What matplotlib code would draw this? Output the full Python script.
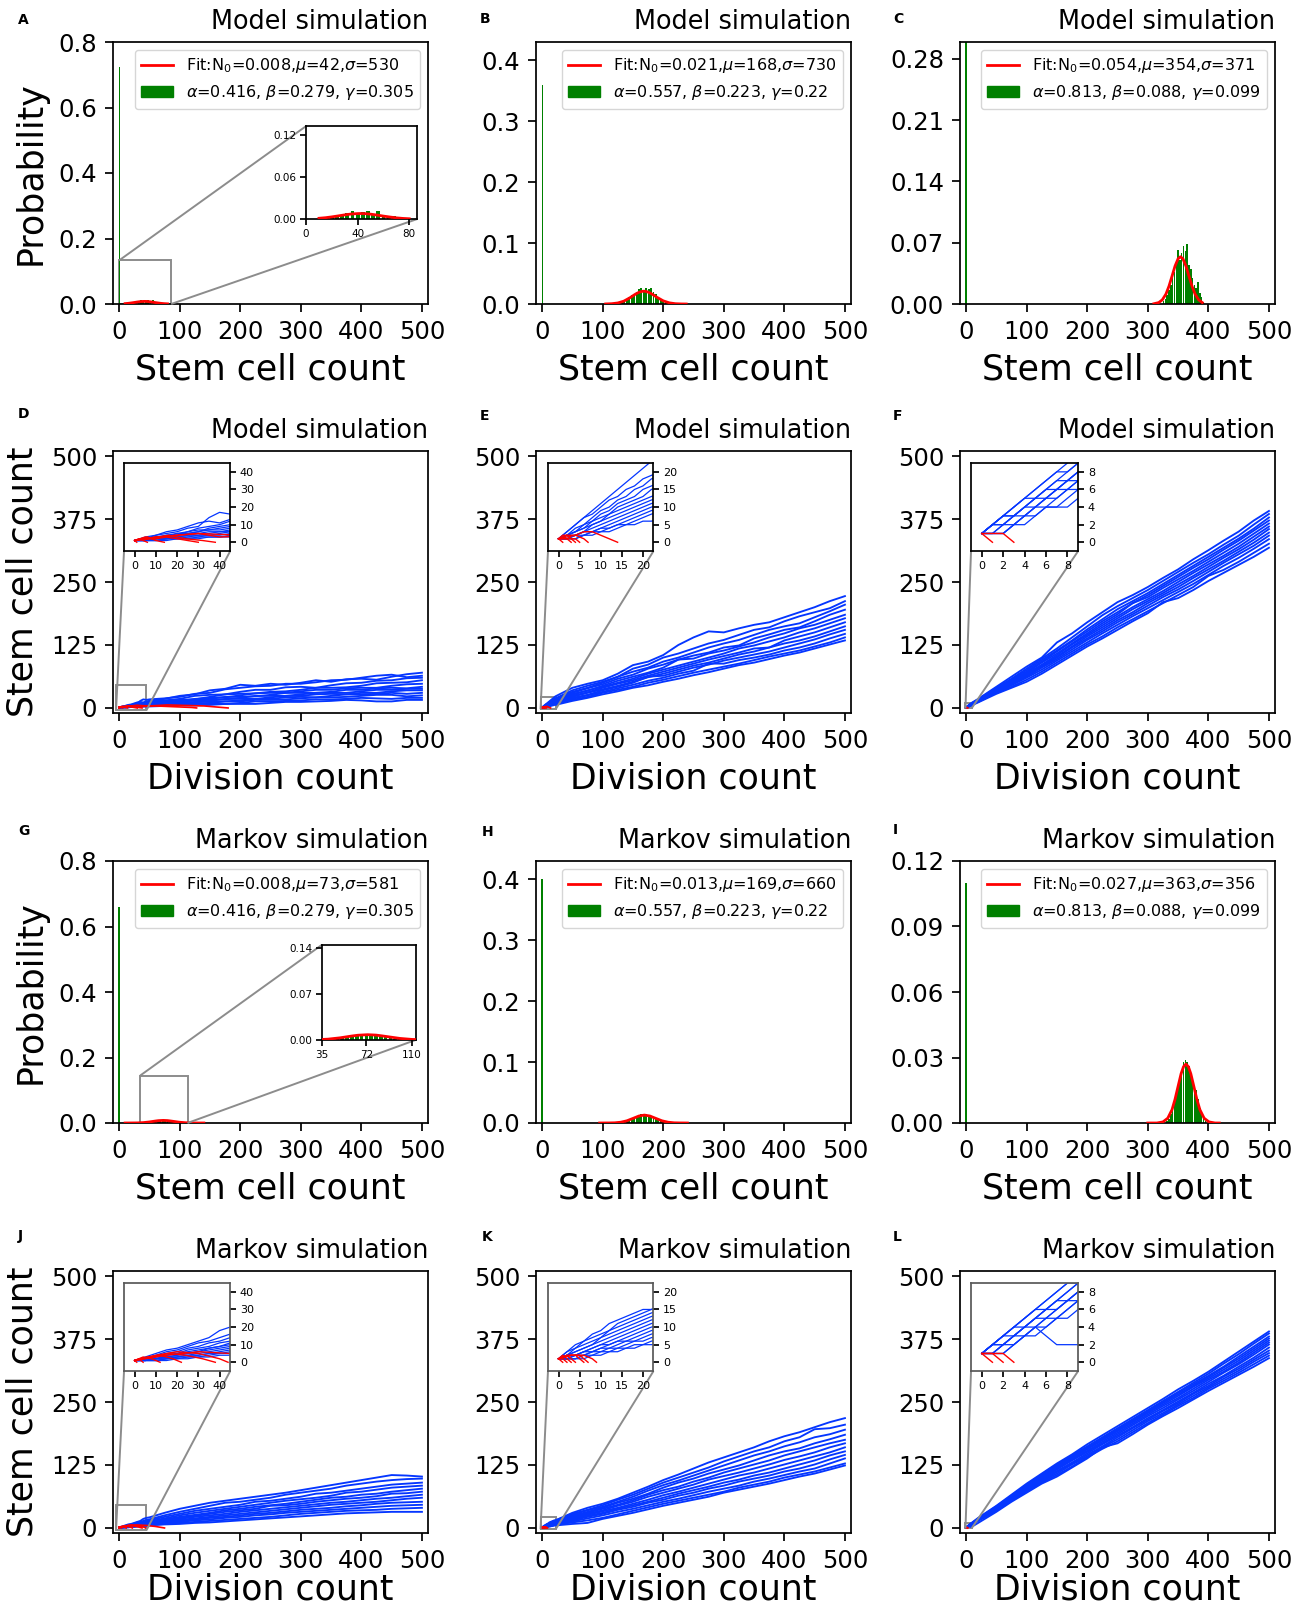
import matplotlib
matplotlib.use('Agg')
import matplotlib.pyplot as plt
from matplotlib.patches import Patch
from mpl_toolkits.axes_grid1.inset_locator import mark_inset

# ---------------- data: histogram panels (A, B, C, G, H, I) ----------------
fit_N0 = [0.008, 0.021, 0.054, 0.008, 0.013, 0.027]
fit_mu = [42, 168, 354, 73, 169, 363]
fit_sigma = [530, 730, 371, 581, 660, 356]
p_alpha = ['0.416', '0.557', '0.813', '0.416', '0.557', '0.813']
p_beta = ['0.279', '0.223', '0.088', '0.279', '0.223', '0.088']
p_gamma = ['0.305', '0.22', '0.099', '0.305', '0.22', '0.099']

spike_height = [0.725, 0.36, 0.31, 0.66, 0.40, 0.11]

A_bar_x = [16, 20, 24, 28, 32, 36, 40, 44, 48, 52, 56, 60, 64, 68, 72, 76, 80]
A_bar_y = [0.003, 0.004, 0.006, 0.005, 0.009, 0.011, 0.009, 0.010, 0.012, 0.008, 0.011,
           0.006, 0.005, 0.004, 0.003, 0.002, 0.001]
A_fit_x = [10, 15, 20, 25, 30, 35, 40, 42, 45, 50, 55, 60, 65, 70, 75, 80]
A_fit_y = [0.0012, 0.0020, 0.0032, 0.0046, 0.0061, 0.0073, 0.0079, 0.0080, 0.0079,
           0.0071, 0.0058, 0.0043, 0.0030, 0.0018, 0.0010, 0.0005]

B_bar_x = [128, 132, 136, 140, 144, 148, 152, 156, 160, 164, 168, 172, 176, 180, 184,
           188, 192, 196, 200, 204, 208, 212]
B_bar_y = [0.002, 0.004, 0.006, 0.008, 0.011, 0.014, 0.017, 0.020, 0.024, 0.026, 0.022,
           0.027, 0.024, 0.026, 0.020, 0.016, 0.012, 0.009, 0.006, 0.004, 0.002, 0.001]
B_fit_x = [105, 115, 125, 135, 145, 150, 155, 160, 165, 168, 170, 175, 180, 185, 190,
           200, 210, 220, 230, 238]
B_fit_y = [0.0001, 0.0005, 0.0017, 0.0047, 0.0102, 0.0135, 0.0167, 0.0192, 0.0207,
           0.0210, 0.0209, 0.0196, 0.0172, 0.0141, 0.0108, 0.0052, 0.0019, 0.0005,
           0.0001, 0.0000]

C_bar_x = [326, 329, 332, 335, 338, 341, 344, 347, 350, 353, 356, 359, 362, 365, 368,
           371, 374, 377, 380, 383, 386, 389, 392]
C_bar_y = [0.003, 0.006, 0.010, 0.016, 0.022, 0.030, 0.036, 0.045, 0.062, 0.050, 0.058,
           0.066, 0.060, 0.068, 0.045, 0.040, 0.030, 0.022, 0.018, 0.025, 0.012, 0.008,
           0.002]
C_fit_x = [310, 318, 324, 330, 335, 340, 345, 350, 354, 358, 363, 368, 373, 378, 384, 390]
C_fit_y = [0.0003, 0.0016, 0.0048, 0.0114, 0.0204, 0.0318, 0.0434, 0.0517, 0.0540,
           0.0517, 0.0434, 0.0318, 0.0204, 0.0114, 0.0048, 0.0016]

G_bar_x = [48, 52, 56, 60, 64, 68, 72, 76, 80, 84, 88, 92, 96, 100]
G_bar_y = [0.002, 0.003, 0.004, 0.005, 0.007, 0.008, 0.009, 0.008, 0.007, 0.006, 0.004,
           0.003, 0.002, 0.001]
G_fit_x = [10, 20, 30, 40, 50, 60, 65, 73, 80, 85, 90, 100, 110, 120, 130, 140]
G_fit_y = [0.0000, 0.0001, 0.0003, 0.0012, 0.0032, 0.0060, 0.0072, 0.0080, 0.0074,
           0.0062, 0.0049, 0.0023, 0.0008, 0.0002, 0.0000, 0.0000]

H_bar_x = [136, 140, 144, 148, 152, 156, 160, 164, 168, 172, 176, 180, 184, 188, 192,
           196, 200, 204]
H_bar_y = [0.002, 0.003, 0.005, 0.007, 0.009, 0.011, 0.013, 0.014, 0.015, 0.015, 0.013,
           0.012, 0.010, 0.008, 0.005, 0.004, 0.002, 0.001]
H_fit_x = [95, 110, 120, 130, 140, 150, 160, 169, 178, 188, 198, 208, 218, 228, 240]
H_fit_y = [0.0000, 0.0001, 0.0003, 0.0013, 0.0036, 0.0075, 0.0115, 0.0130, 0.0115,
           0.0075, 0.0036, 0.0013, 0.0003, 0.0001, 0.0000]

I_bar_x = [332, 335, 338, 341, 344, 347, 350, 353, 356, 359, 362, 365, 368, 371, 374,
           377, 380, 383, 386, 389, 392, 395]
I_bar_y = [0.001, 0.002, 0.004, 0.006, 0.009, 0.012, 0.016, 0.020, 0.024, 0.028, 0.029,
           0.028, 0.026, 0.023, 0.020, 0.017, 0.015, 0.011, 0.007, 0.004, 0.002, 0.001]
I_fit_x = [300, 315, 325, 333, 340, 345, 350, 355, 359, 363, 367, 371, 376, 381, 386,
           393, 401, 411, 418]
I_fit_y = [0.0000, 0.0000, 0.0005, 0.0022, 0.0061, 0.0109, 0.0168, 0.0226, 0.0258,
           0.0270, 0.0258, 0.0226, 0.0168, 0.0109, 0.0061, 0.0022, 0.0005, 0.0000, 0.0000]

# ---------------- data: trajectory panels (D, E, F, J, K, L) ----------------
# division counts at which the trajectories were read (early part = inset range)
late_x = [50, 75, 100, 125, 150, 175, 200, 225, 250, 275, 300, 325, 350, 375, 400, 425,
          450, 475, 500]
D_x = [0, 5, 10, 15, 20, 25, 30, 35, 40, 45] + late_x
D_blue = [
    [1, 3, 4, 6, 7, 9, 11, 12, 11, 13, 14, 18, 24, 27, 35, 38, 46, 44, 48, 46, 50, 55, 52, 57, 58, 56, 62, 67, 70],
    [1, 2, 4, 5, 6, 8, 9, 14, 17, 16, 17, 19, 22, 28, 30, 37, 40, 43, 44, 48, 48, 51, 55, 56, 60, 64, 66, 61, 64],
    [1, 2, 3, 3, 5, 6, 8, 9, 10, 12, 13, 15, 18, 24, 26, 27, 32, 36, 36, 41, 42, 40, 45, 49, 50, 54, 55, 59, 60],
    [1, 2, 2, 4, 5, 5, 6, 8, 9, 10, 11, 14, 16, 17, 22, 27, 28, 29, 32, 33, 36, 40, 40, 41, 44, 49, 50, 51, 55],
    [1, 1, 3, 4, 4, 6, 7, 7, 8, 9, 10, 12, 14, 18, 20, 21, 25, 29, 30, 30, 33, 36, 36, 39, 40, 40, 44, 47, 48],
    [1, 2, 3, 3, 4, 5, 6, 7, 7, 8, 9, 11, 13, 15, 18, 22, 22, 23, 26, 30, 30, 30, 32, 36, 36, 39, 40, 39, 42],
    [1, 1, 2, 3, 3, 4, 5, 6, 6, 7, 8, 10, 12, 15, 16, 17, 20, 24, 24, 24, 27, 30, 30, 30, 33, 36, 36, 38, 38],
    [1, 2, 2, 2, 3, 4, 4, 5, 6, 6, 7, 8, 10, 11, 14, 18, 18, 18, 21, 24, 24, 27, 28, 27, 30, 30, 33, 35, 35],
    [1, 1, 1, 2, 3, 3, 4, 4, 5, 6, 6, 8, 9, 12, 12, 13, 15, 18, 18, 21, 22, 21, 24, 27, 27, 28, 30, 28, 30],
    [1, 1, 2, 2, 2, 3, 3, 4, 4, 5, 5, 6, 8, 8, 10, 13, 13, 16, 16, 17, 19, 21, 21, 22, 24, 26, 26, 23, 25],
    [1, 1, 1, 2, 2, 2, 3, 3, 3, 4, 4, 5, 6, 8, 8, 8, 10, 13, 13, 14, 15, 17, 17, 18, 20, 19, 18, 20, 20],
    [1, 1, 1, 1, 2, 2, 2, 3, 3, 3, 3, 4, 5, 5, 6, 8, 8, 8, 10, 12, 12, 13, 14, 16, 15, 13, 13, 16, 16],
]
D_red_x = [[0, 1], [0, 2, 4, 6], [0, 3, 6, 10, 14], [0, 5, 10, 15, 20, 25, 30],
           [0, 10, 20, 30, 40, 60, 80, 100, 120, 128],
           [0, 10, 30, 50, 80, 110, 140, 160, 180], [0, 8, 16, 24, 32, 38]]
D_red_y = [[1, 0], [1, 2, 1, 0], [1, 2, 3, 1, 0], [1, 3, 2, 3, 2, 1, 0],
           [1, 3, 4, 5, 3, 4, 3, 2, 1, 0], [1, 3, 5, 4, 6, 5, 4, 2, 0], [1, 2, 4, 2, 1, 0]]

J_x = [0, 5, 10, 15, 20, 25, 30, 35, 40, 45] + late_x
J_blue = [
    [1, 3, 5, 7, 8, 10, 12, 14, 18, 20, 21, 30, 38, 44, 50, 54, 58, 62, 66, 70, 75, 80, 85, 90, 95, 100, 105, 104, 102],
    [1, 2, 4, 6, 7, 9, 11, 12, 14, 16, 17, 25, 32, 38, 44, 50, 52, 56, 60, 66, 70, 74, 78, 84, 88, 92, 95, 97, 98],
    [1, 2, 3, 5, 6, 8, 9, 11, 12, 14, 15, 22, 28, 34, 38, 42, 46, 52, 54, 58, 62, 68, 70, 74, 78, 82, 86, 88, 90],
    [1, 2, 3, 4, 5, 7, 8, 9, 11, 12, 13, 19, 25, 30, 34, 38, 42, 46, 50, 54, 57, 60, 64, 70, 72, 76, 80, 82, 84],
    [1, 2, 2, 4, 5, 6, 7, 8, 9, 11, 12, 17, 22, 26, 30, 35, 38, 42, 45, 48, 52, 56, 60, 62, 66, 68, 72, 75, 78],
    [1, 1, 2, 3, 4, 5, 6, 8, 9, 10, 11, 16, 20, 24, 28, 32, 35, 38, 44, 45, 48, 52, 55, 58, 60, 63, 68, 69, 72],
    [1, 1, 2, 3, 4, 5, 6, 7, 8, 9, 10, 14, 18, 22, 25, 28, 32, 35, 38, 41, 44, 47, 50, 52, 55, 58, 60, 63, 66],
    [1, 2, 2, 3, 3, 4, 5, 6, 7, 8, 9, 13, 16, 19, 22, 25, 28, 31, 34, 37, 40, 43, 46, 48, 50, 52, 55, 58, 60],
    [1, 1, 2, 2, 3, 4, 4, 5, 6, 7, 8, 11, 14, 17, 20, 22, 25, 28, 30, 33, 36, 38, 40, 43, 45, 48, 50, 51, 52],
    [1, 1, 1, 2, 3, 3, 4, 5, 5, 6, 7, 10, 12, 15, 17, 20, 22, 25, 27, 30, 32, 34, 36, 38, 40, 42, 44, 45, 46],
    [1, 1, 1, 2, 2, 3, 3, 4, 5, 5, 6, 8, 10, 12, 14, 16, 18, 20, 22, 25, 28, 30, 32, 34, 35, 36, 38, 39, 40],
    [1, 1, 1, 1, 2, 2, 3, 3, 4, 4, 5, 7, 8, 10, 11, 13, 15, 17, 19, 21, 23, 25, 27, 29, 30, 31, 32, 32, 32],
]
J_red_x = [[0, 1], [0, 2, 4], [0, 4, 8, 12], [0, 6, 12, 18, 22], [0, 8, 16, 24, 32, 38],
           [0, 10, 20, 30, 40, 44], [0, 15, 30, 45, 60, 75]]
J_red_y = [[1, 0], [1, 2, 0], [1, 3, 2, 0], [1, 3, 4, 2, 0], [1, 3, 5, 4, 2, 0],
           [1, 4, 6, 5, 2, 0], [1, 4, 6, 5, 3, 0]]

E_x = [0, 2, 4, 6, 8, 10, 12, 14, 16, 18, 20, 22] + late_x
E_blue = [
    [1, 3, 5, 7, 9, 11, 13, 15, 17, 19, 21, 23, 40, 48, 55, 68, 85, 92, 105, 125, 140, 152, 150, 158, 165, 170, 180, 190, 200, 212, 222],
    [1, 3, 5, 7, 8, 10, 12, 13, 15, 16, 18, 19, 35, 44, 52, 62, 78, 86, 100, 108, 118, 128, 135, 145, 155, 160, 172, 182, 190, 198, 212],
    [1, 2, 4, 5, 7, 9, 10, 12, 13, 15, 16, 18, 32, 40, 50, 62, 72, 80, 92, 100, 110, 120, 128, 135, 145, 155, 162, 168, 180, 192, 205],
    [1, 2, 3, 5, 6, 8, 9, 11, 12, 13, 15, 16, 30, 39, 47, 58, 66, 78, 86, 96, 104, 110, 120, 124, 138, 146, 155, 160, 172, 185, 195],
    [1, 2, 3, 4, 6, 7, 8, 10, 11, 12, 13, 15, 28, 34, 44, 54, 62, 70, 80, 96, 98, 108, 114, 122, 130, 140, 148, 158, 165, 175, 185],
    [1, 2, 3, 4, 5, 6, 8, 9, 10, 11, 12, 13, 26, 35, 42, 50, 58, 68, 76, 84, 92, 100, 108, 118, 124, 132, 140, 150, 158, 168, 178],
    [1, 1, 2, 3, 5, 6, 7, 8, 9, 10, 11, 12, 24, 31, 40, 48, 55, 64, 72, 80, 88, 96, 103, 110, 118, 120, 134, 142, 150, 160, 170],
    [1, 2, 2, 3, 4, 5, 6, 7, 8, 9, 10, 11, 22, 30, 37, 44, 52, 61, 68, 76, 84, 90, 98, 106, 112, 120, 128, 134, 142, 152, 162],
    [1, 1, 2, 3, 3, 4, 5, 6, 7, 8, 9, 10, 20, 26, 35, 42, 50, 62, 64, 72, 80, 86, 94, 100, 106, 112, 120, 128, 136, 146, 155],
    [1, 1, 2, 2, 3, 4, 4, 5, 6, 7, 8, 9, 18, 25, 32, 39, 46, 54, 60, 68, 74, 88, 88, 95, 100, 106, 114, 120, 128, 138, 147],
    [1, 1, 1, 2, 3, 3, 4, 5, 5, 6, 7, 8, 16, 22, 30, 36, 42, 50, 56, 63, 70, 76, 82, 88, 95, 102, 108, 114, 122, 130, 140],
    [1, 1, 1, 2, 2, 3, 3, 4, 5, 5, 6, 6, 14, 20, 27, 33, 40, 45, 52, 58, 65, 71, 78, 85, 90, 97, 104, 110, 118, 126, 134],
]
E_red_x = [[0, 1], [0, 2, 3], [0, 1, 2, 3, 4], [0, 3, 4, 5], [0, 2, 4, 6, 7],
           [0, 4, 6, 8, 10, 12, 14]]
E_red_y = [[1, 0], [1, 1, 0], [1, 2, 2, 1, 0], [1, 1, 1, 0], [1, 2, 2, 1, 0],
           [1, 2, 3, 3, 2, 1, 0]]

K_x = [0, 2, 4, 6, 8, 10, 12, 14, 16, 18, 20, 22] + late_x
K_blue = [
    [1, 3, 5, 6, 8, 9, 11, 12, 13, 14, 15, 15, 30, 40, 48, 58, 70, 82, 95, 106, 118, 130, 140, 150, 160, 172, 182, 190, 200, 210, 218],
    [1, 3, 4, 6, 7, 8, 9, 11, 12, 13, 14, 15, 28, 36, 45, 56, 66, 78, 90, 100, 110, 120, 132, 142, 152, 160, 172, 180, 196, 198, 205],
    [1, 2, 4, 5, 6, 7, 9, 10, 11, 12, 13, 14, 26, 35, 42, 52, 62, 74, 85, 94, 104, 114, 124, 134, 144, 152, 162, 170, 180, 186, 195],
    [1, 2, 3, 4, 5, 7, 8, 9, 10, 11, 12, 13, 24, 32, 40, 50, 58, 68, 80, 90, 98, 108, 116, 124, 134, 144, 152, 158, 168, 176, 185],
    [1, 2, 3, 4, 5, 6, 7, 8, 9, 10, 11, 12, 22, 30, 38, 46, 55, 66, 75, 82, 92, 100, 110, 118, 126, 134, 144, 152, 160, 168, 175],
    [1, 2, 2, 3, 4, 5, 6, 7, 8, 9, 10, 11, 20, 28, 35, 44, 52, 62, 70, 78, 86, 96, 103, 110, 118, 126, 135, 142, 150, 160, 168],
    [1, 1, 2, 3, 4, 5, 5, 6, 7, 8, 9, 10, 18, 26, 33, 40, 48, 56, 65, 72, 80, 88, 96, 104, 110, 118, 126, 134, 142, 150, 160],
    [1, 1, 2, 3, 3, 4, 5, 6, 6, 7, 8, 9, 16, 24, 30, 38, 45, 52, 60, 68, 75, 82, 90, 96, 104, 110, 118, 126, 134, 144, 152],
    [1, 1, 2, 2, 3, 4, 4, 5, 6, 6, 7, 8, 15, 22, 28, 36, 42, 50, 56, 64, 70, 78, 84, 92, 98, 104, 112, 118, 126, 136, 145],
    [1, 1, 1, 2, 3, 3, 4, 4, 5, 6, 6, 7, 13, 19, 25, 32, 38, 45, 52, 58, 65, 72, 78, 84, 92, 98, 105, 112, 118, 128, 138],
    [1, 1, 1, 2, 2, 3, 3, 4, 4, 5, 5, 6, 11, 15, 20, 27, 34, 41, 48, 54, 60, 66, 72, 80, 86, 92, 100, 106, 112, 120, 128],
    [1, 1, 1, 1, 2, 2, 3, 3, 4, 4, 5, 5, 8, 10, 18, 24, 30, 37, 44, 50, 56, 62, 70, 76, 82, 88, 95, 102, 108, 116, 124],
]
K_red_x = [[0, 1], [0, 1, 2], [0, 1, 2, 3], [0, 2, 3, 4], [0, 2, 4, 5, 6], [0, 3, 5, 6, 7],
           [0, 3, 6, 8, 9]]
K_red_y = [[1, 0], [1, 1, 0], [1, 2, 1, 0], [1, 2, 1, 0], [1, 2, 2, 1, 0], [1, 2, 2, 1, 0],
           [1, 2, 2, 1, 0]]

F_x = [0, 1, 2, 3, 4, 5, 6, 7, 8, 9, 20] + late_x
F_blue = [
    [1, 2, 3, 4, 5, 6, 7, 8, 9, 10, 18, 42, 62, 82, 100, 130, 148, 170, 190, 210, 224, 240, 258, 275, 295, 313, 332, 350, 372, 391],
    [1, 2, 3, 4, 5, 6, 7, 8, 8, 9, 17, 40, 58, 78, 98, 118, 140, 162, 184, 202, 218, 234, 252, 270, 288, 305, 324, 342, 364, 385],
    [1, 2, 3, 4, 5, 5, 6, 7, 8, 9, 16, 38, 56, 75, 95, 114, 134, 156, 176, 196, 212, 228, 246, 264, 282, 300, 318, 336, 356, 378],
    [1, 2, 3, 3, 4, 5, 6, 7, 7, 8, 16, 37, 54, 72, 92, 112, 132, 152, 172, 190, 208, 224, 242, 260, 278, 295, 314, 332, 352, 372],
    [1, 2, 2, 3, 4, 5, 6, 6, 7, 8, 15, 36, 52, 70, 90, 108, 128, 148, 168, 186, 208, 220, 238, 255, 272, 290, 308, 326, 346, 366],
    [1, 1, 2, 3, 4, 5, 5, 6, 7, 8, 15, 35, 50, 68, 86, 105, 126, 145, 164, 182, 200, 216, 232, 250, 268, 285, 302, 320, 340, 360],
    [1, 2, 3, 3, 4, 4, 5, 6, 7, 7, 14, 34, 50, 66, 84, 102, 122, 142, 160, 178, 196, 212, 228, 245, 262, 280, 298, 315, 334, 355],
    [1, 1, 1, 2, 3, 4, 5, 5, 6, 7, 14, 33, 48, 64, 82, 100, 120, 138, 156, 174, 190, 208, 224, 240, 258, 275, 292, 310, 328, 348],
    [1, 2, 2, 3, 3, 4, 5, 6, 6, 7, 13, 32, 46, 62, 80, 97, 116, 135, 152, 170, 186, 203, 220, 235, 252, 270, 288, 305, 322, 342],
    [1, 1, 2, 2, 3, 4, 4, 5, 6, 6, 13, 31, 45, 60, 76, 94, 112, 130, 148, 165, 182, 198, 214, 230, 246, 264, 282, 298, 316, 335],
    [1, 1, 1, 2, 2, 3, 4, 4, 5, 6, 12, 30, 42, 56, 72, 90, 108, 126, 142, 160, 176, 192, 208, 224, 240, 262, 274, 290, 308, 326],
    [1, 1, 1, 2, 3, 3, 4, 4, 4, 5, 11, 28, 40, 52, 68, 86, 104, 122, 138, 155, 172, 188, 210, 218, 234, 252, 268, 284, 300, 318],
]
F_red_x = [[0, 1], [0, 1, 2, 3]]
F_red_y = [[1, 0], [1, 1, 1, 0]]

L_x = [0, 1, 2, 3, 4, 5, 6, 7, 8, 9, 20] + late_x
L_blue = [
    [1, 2, 3, 4, 5, 6, 7, 8, 9, 10, 20, 44, 66, 88, 108, 128, 146, 166, 184, 202, 220, 238, 256, 275, 292, 310, 330, 350, 370, 390],
    [1, 2, 3, 4, 5, 6, 7, 8, 9, 9, 19, 43, 64, 86, 106, 126, 144, 162, 180, 198, 216, 234, 252, 270, 288, 306, 326, 345, 366, 386],
    [1, 2, 3, 4, 5, 6, 6, 7, 8, 9, 18, 42, 63, 84, 104, 124, 142, 160, 178, 196, 214, 232, 250, 268, 285, 302, 320, 340, 360, 380],
    [1, 2, 3, 4, 4, 5, 6, 7, 8, 9, 18, 41, 62, 83, 102, 122, 140, 158, 176, 194, 212, 230, 248, 265, 282, 300, 318, 336, 356, 376],
    [1, 2, 3, 3, 4, 5, 6, 7, 7, 8, 17, 40, 61, 82, 101, 120, 138, 156, 174, 192, 210, 228, 245, 262, 280, 297, 314, 332, 352, 372],
    [1, 2, 2, 3, 4, 5, 6, 6, 7, 8, 17, 39, 60, 80, 99, 118, 136, 153, 171, 189, 207, 225, 242, 258, 276, 294, 310, 328, 348, 368],
    [1, 1, 2, 3, 4, 5, 5, 6, 7, 8, 16, 38, 58, 79, 98, 116, 134, 151, 168, 186, 204, 222, 238, 255, 272, 290, 308, 325, 344, 364],
    [1, 2, 2, 3, 3, 4, 5, 6, 7, 7, 16, 37, 57, 77, 96, 113, 130, 148, 166, 183, 200, 218, 234, 251, 268, 286, 302, 320, 338, 358],
    [1, 1, 2, 2, 3, 4, 5, 5, 6, 7, 15, 36, 56, 76, 94, 111, 128, 145, 162, 180, 198, 215, 232, 248, 266, 282, 300, 316, 334, 352],
    [1, 1, 1, 2, 3, 4, 4, 5, 6, 7, 15, 35, 55, 74, 92, 108, 126, 142, 160, 176, 194, 212, 228, 245, 262, 279, 296, 312, 330, 347],
    [1, 1, 1, 2, 3, 3, 4, 5, 5, 6, 14, 34, 54, 72, 90, 105, 122, 140, 157, 172, 190, 208, 225, 242, 258, 276, 292, 308, 325, 342],
    [1, 1, 2, 3, 4, 4, 3, 2, 2, 2, 10, 32, 52, 70, 88, 102, 120, 138, 160, 168, 186, 205, 222, 238, 255, 272, 288, 304, 320, 337],
]
L_red_x = [[0, 1], [0, 1, 2], [0, 2, 3]]
L_red_y = [[1, 0], [1, 1, 0], [1, 1, 0]]

# ---------------- layout ----------------
W, H = 1304, 1612
fig = plt.figure(figsize=(W / 100, H / 100), dpi=100)
BLUE = '#0536ff'
GREEN = 'green'
col_x = [113, 536, 960]
row_y = [42, 451, 861, 1271]
AW, AH = 315, 262
TICK_FS = 17.5
LABEL_FS = 25
TITLE_FS = 18.4


def add_ax(x, y):
    return fig.add_axes([x / W, 1 - (y + AH) / H, AW / W, AH / H])


def style(ax, size=TICK_FS, lw=1.25, length=5.5, pad=6):
    for s in ax.spines.values():
        s.set_linewidth(lw)
    ax.tick_params(labelsize=size, width=lw, length=length, pad=pad)


def hist_panel(ax, i, bx, by, bw, fx, fy, ylim, yticks, title, spike_w, inset=None):
    ax.bar([0], [spike_height[i]], width=spike_w, color=GREEN, zorder=2)
    ax.bar(bx, by, width=bw, color=GREEN, zorder=2)
    line, = ax.plot(fx, fy, color='red', lw=2, zorder=3)
    ax.set_xlim(-10, 510)
    ax.set_ylim(*ylim)
    ax.set_xticks([0, 100, 200, 300, 400, 500])
    ax.set_yticks(yticks)
    style(ax)
    ax.set_xlabel('Stem cell count', fontsize=LABEL_FS, labelpad=6)
    ax.set_title(title, loc='right', fontsize=TITLE_FS, pad=9.5)
    lab1 = 'Fit:N$_0$=%s,$\\mu$=%d,$\\sigma$=%d' % (('%.3f' % fit_N0[i]), fit_mu[i], fit_sigma[i])
    lab2 = '$\\alpha$=%s, $\\beta$=%s, $\\gamma$=%s' % (p_alpha[i], p_beta[i], p_gamma[i])
    ax.legend([line, Patch(color=GREEN)], [lab1, lab2], loc='upper right', fontsize=11.5)
    if inset is not None:
        rect, xl, yl, xt, yt = inset
        axins = ax.inset_axes(rect)
        axins.bar(bx, by, width=bw, color=GREEN, zorder=2)
        axins.plot(fx, fy, color='red', lw=2, zorder=3)
        axins.set_xlim(*xl)
        axins.set_ylim(*yl)
        axins.set_xticks(xt)
        axins.set_yticks(yt)
        axins.set_yticklabels(['%.2f' % v for v in yt])
        style(axins, size=7.5, lw=1.25, length=4, pad=3)
        mark_inset(ax, axins, loc1=2, loc2=4, fc='none', ec='0.55', lw=1.4)


def traj_panel(ax, xs, blues, rxs, rys, inset_rect, lim, ticks, title, frame_color, xpad=6):
    for y in blues:
        ax.plot(xs, y, color=BLUE, lw=1.35)
    for rx, ry in zip(rxs, rys):
        ax.plot(rx, ry, color='red', lw=1.2)
    ax.set_xlim(-10, 510)
    ax.set_ylim(-10, 510)
    ax.set_xticks([0, 100, 200, 300, 400, 500])
    ax.set_yticks([0, 125, 250, 375, 500])
    style(ax)
    ax.set_xlabel('Division count', fontsize=LABEL_FS, labelpad=xpad)
    ax.set_title(title, loc='right', fontsize=TITLE_FS, pad=9.5)
    axins = ax.inset_axes(inset_rect)
    for y in blues:
        axins.plot(xs, y, color=BLUE, lw=0.9)
    for rx, ry in zip(rxs, rys):
        axins.plot(rx, ry, color='red', lw=1.0)
    axins.set_xlim(*lim)
    axins.set_ylim(*lim)
    axins.set_xticks(ticks)
    axins.set_yticks(ticks)
    axins.yaxis.tick_right()
    style(axins, size=8, lw=1.25, length=4, pad=3)
    for s in axins.spines.values():
        s.set_edgecolor(frame_color)
    mark_inset(ax, axins, loc1=3, loc2=4, fc='none', ec='0.55', lw=1.4)


# Row 1: Model histograms
axA = add_ax(col_x[0], row_y[0])
hist_panel(axA, 0, A_bar_x, A_bar_y, 3.0, A_fit_x, A_fit_y, (0, 0.8),
           [0, 0.2, 0.4, 0.6, 0.8], 'Model simulation', 1.5,
           inset=([0.613, 0.324, 0.352, 0.355], (0, 86), (0, 0.133), [0, 40, 80],
                  [0, 0.06, 0.12]))
axA.set_ylabel('Probability', fontsize=LABEL_FS, labelpad=8)
axB = add_ax(col_x[1], row_y[0])
hist_panel(axB, 1, B_bar_x, B_bar_y, 3.2, B_fit_x, B_fit_y, (0, 0.43),
           [0, 0.1, 0.2, 0.3, 0.4], 'Model simulation', 1.5)
axC = add_ax(col_x[2], row_y[0])
hist_panel(axC, 2, C_bar_x, C_bar_y, 2.5, C_fit_x, C_fit_y, (0, 0.2994),
           [0, 0.07, 0.14, 0.21, 0.28], 'Model simulation', 3)

# Row 2: Model trajectories
axD = add_ax(col_x[0], row_y[1])
traj_panel(axD, D_x, D_blue, D_red_x, D_red_y, [0.035, 0.618, 0.337, 0.336], (-5, 45),
           [0, 10, 20, 30, 40], 'Model simulation', 'black')
axD.set_ylabel('Stem cell count', fontsize=LABEL_FS, labelpad=8)
axE = add_ax(col_x[1], row_y[1])
traj_panel(axE, E_x, E_blue, E_red_x, E_red_y, [0.038, 0.618, 0.335, 0.336], (-2.5, 22.5),
           [0, 5, 10, 15, 20], 'Model simulation', 'black')
axF = add_ax(col_x[2], row_y[1])
traj_panel(axF, F_x, F_blue, F_red_x, F_red_y, [0.035, 0.618, 0.34, 0.336], (-1, 9),
           [0, 2, 4, 6, 8], 'Model simulation', 'black')

# Row 3: Markov histograms
axG = add_ax(col_x[0], row_y[2])
hist_panel(axG, 3, G_bar_x, G_bar_y, 3.0, G_fit_x, G_fit_y, (0, 0.8),
           [0, 0.2, 0.4, 0.6, 0.8], 'Markov simulation', 3,
           inset=([0.663, 0.317, 0.298, 0.363], (35, 113), (0, 0.145), [35, 72, 110],
                  [0, 0.07, 0.14]))
axG.set_ylabel('Probability', fontsize=LABEL_FS, labelpad=8)
axH = add_ax(col_x[1], row_y[2])
hist_panel(axH, 4, H_bar_x, H_bar_y, 3.2, H_fit_x, H_fit_y, (0, 0.43),
           [0, 0.1, 0.2, 0.3, 0.4], 'Markov simulation', 3)
axI = add_ax(col_x[2], row_y[2])
hist_panel(axI, 5, I_bar_x, I_bar_y, 2.6, I_fit_x, I_fit_y, (0, 0.12),
           [0, 0.03, 0.06, 0.09, 0.12], 'Markov simulation', 3)

# Row 4: Markov trajectories
axJ = add_ax(col_x[0], row_y[3])
traj_panel(axJ, J_x, J_blue, J_red_x, J_red_y, [0.035, 0.618, 0.337, 0.336], (-5, 45),
           [0, 10, 20, 30, 40], 'Markov simulation', '0.35', xpad=0)
axJ.set_ylabel('Stem cell count', fontsize=LABEL_FS, labelpad=8)
axK = add_ax(col_x[1], row_y[3])
traj_panel(axK, K_x, K_blue, K_red_x, K_red_y, [0.038, 0.618, 0.335, 0.336], (-2.5, 22.5),
           [0, 5, 10, 15, 20], 'Markov simulation', '0.35', xpad=0)
axL = add_ax(col_x[2], row_y[3])
traj_panel(axL, L_x, L_blue, L_red_x, L_red_y, [0.035, 0.618, 0.34, 0.336], (-1, 9),
           [0, 2, 4, 6, 8], 'Markov simulation', '0.35', xpad=0)

# panel letters
letters = ['A', 'B', 'C', 'D', 'E', 'F', 'G', 'H', 'I', 'J', 'K', 'L']
letter_x = [18, 480, 893, 18, 480, 893, 18, 482, 893, 18, 482, 893]
letter_y = [20, 19, 19, 414, 416, 416, 831, 832, 830, 1236, 1237, 1237]
for t, lx, ly in zip(letters, letter_x, letter_y):
    fig.text(lx / W, 1 - ly / H, t, fontsize=10, fontweight='bold', ha='left', va='center')

fig.savefig('out.png', dpi=100)
